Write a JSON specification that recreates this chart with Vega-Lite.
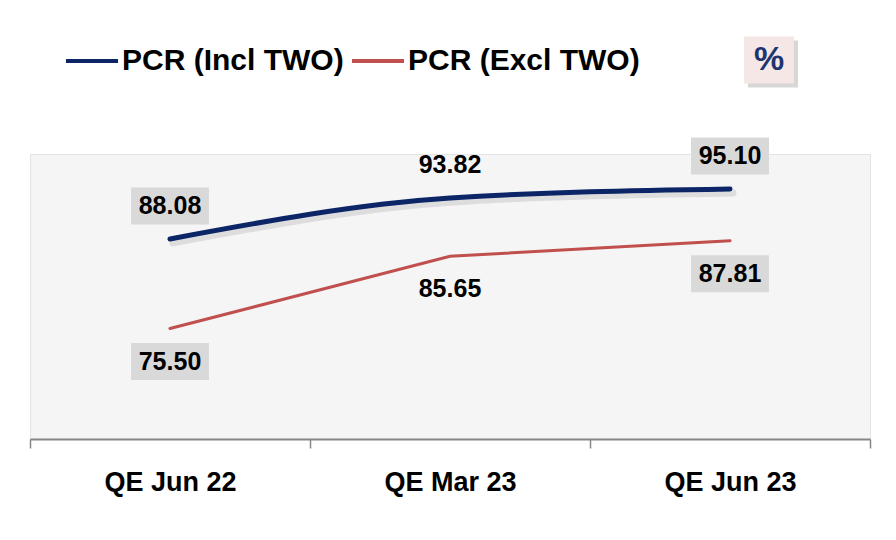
{
  "$schema": "https://vega.github.io/schema/vega-lite/v6.json",
  "width": 840,
  "height": 285,
  "autosize": {"type": "none"},
  "padding": {"left": 30, "top": 154, "right": 26, "bottom": 101},
  "background": "white",
  "config": {
    "view": {"fill": "#f5f5f5", "stroke": "#e4e4e4", "strokeWidth": 1},
    "font": "Liberation Sans"
  },
  "data": {
    "values": [
      {"period": "QE Jun 22", "series": "PCR (Incl TWO)", "value": 88.08},
      {"period": "QE Mar 23", "series": "PCR (Incl TWO)", "value": 93.82},
      {"period": "QE Jun 23", "series": "PCR (Incl TWO)", "value": 95.10},
      {"period": "QE Jun 22", "series": "PCR (Excl TWO)", "value": 75.50},
      {"period": "QE Mar 23", "series": "PCR (Excl TWO)", "value": 85.65},
      {"period": "QE Jun 23", "series": "PCR (Excl TWO)", "value": 87.81}
    ]
  },
  "encoding": {
    "x": {
      "field": "period",
      "type": "nominal",
      "sort": ["QE Jun 22", "QE Mar 23", "QE Jun 23"],
      "scale": {"type": "band", "paddingInner": 0, "paddingOuter": 0},
      "axis": {
        "title": null,
        "labelAngle": 0,
        "labelFont": "Liberation Sans",
        "labelFontSize": 27,
        "labelFontWeight": "bold",
        "labelColor": "#000000",
        "labelPadding": 21,
        "domainColor": "#868686",
        "domainWidth": 2,
        "tickColor": "#868686",
        "tickWidth": 1.5,
        "tickSize": 9,
        "tickBand": "extent",
        "grid": false
      }
    },
    "y": {
      "field": "value",
      "type": "quantitative",
      "scale": {"domain": [60, 100], "zero": false, "nice": false},
      "axis": null
    }
  },
  "layer": [
    {
      "transform": [{"filter": "datum.series === 'PCR (Incl TWO)'"}],
      "mark": {"type": "line", "color": "#8a8a8a", "opacity": 0.22, "strokeWidth": 7, "interpolate": "monotone", "xOffset": 3, "yOffset": 4, "strokeCap": "round"}
    },
    {
      "transform": [{"filter": "datum.series === 'PCR (Incl TWO)'"}],
      "mark": {"type": "line", "strokeWidth": 5, "interpolate": "monotone", "strokeCap": "round"},
      "encoding": {
        "color": {
          "field": "series",
          "type": "nominal",
          "scale": {"domain": ["PCR (Incl TWO)", "PCR (Excl TWO)"], "range": ["#0b2566", "#c0504d"]},
          "legend": {
            "title": null,
            "orient": "none",
            "direction": "horizontal",
            "legendX": 34,
            "legendY": -121,
            "padding": 0,
            "symbolType": "stroke",
            "symbolSize": 2704,
            "symbolStrokeWidth": 4,
            "labelFont": "Liberation Sans",
            "labelFontSize": 30,
            "labelFontWeight": "bold",
            "labelColor": "#000000",
            "labelOffset": 2,
            "columnPadding": 0,
            "labelLimit": 400
          }
        }
      }
    },
    {
      "transform": [{"filter": "datum.series === 'PCR (Excl TWO)'"}],
      "mark": {"type": "line", "strokeWidth": 3, "strokeCap": "round"},
      "encoding": {
        "color": {"field": "series", "type": "nominal"}
      }
    },
    {
      "transform": [{"filter": "datum.series === 'PCR (Incl TWO)' && datum.period !== 'QE Mar 23'"}],
      "mark": {"type": "point", "shape": "M-1,-0.474H1V0.474H-1Z", "size": 6084, "filled": true, "color": "#d9d9d9", "opacity": 1, "yOffset": -33}
    },
    {
      "transform": [{"filter": "datum.series === 'PCR (Excl TWO)' && datum.period !== 'QE Mar 23'"}],
      "mark": {"type": "point", "shape": "M-1,-0.474H1V0.474H-1Z", "size": 6084, "filled": true, "color": "#d9d9d9", "opacity": 1, "yOffset": 33}
    },
    {
      "transform": [{"filter": "datum.series === 'PCR (Incl TWO)'"}],
      "mark": {"type": "text", "font": "Liberation Sans", "fontSize": 25, "fontWeight": "bold", "color": "#000000", "baseline": "middle", "align": "center", "yOffset": -33},
      "encoding": {"text": {"field": "value", "type": "quantitative", "format": ".2f"}}
    },
    {
      "transform": [{"filter": "datum.series === 'PCR (Excl TWO)'"}],
      "mark": {"type": "text", "font": "Liberation Sans", "fontSize": 25, "fontWeight": "bold", "color": "#000000", "baseline": "middle", "align": "center", "yOffset": 33},
      "encoding": {"text": {"field": "value", "type": "quantitative", "format": ".2f"}}
    },
    {
      "transform": [{"filter": "datum.series === 'PCR (Incl TWO)' && datum.period === 'QE Jun 23'"}],
      "mark": {"type": "point", "shape": "M-1,-0.94H1V0.94H-1Z", "size": 2500, "filled": true, "color": "#9a9a9a", "opacity": 0.4, "xOffset": 43, "yOffset": 4},
      "encoding": {
        "y": {"datum": 113.2, "type": "quantitative"}
      }
    },
    {
      "transform": [{"filter": "datum.series === 'PCR (Incl TWO)' && datum.period === 'QE Jun 23'"}],
      "mark": {"type": "point", "shape": "M-1,-0.94H1V0.94H-1Z", "size": 2500, "filled": true, "color": "#f6e7e7", "opacity": 1, "xOffset": 39},
      "encoding": {
        "y": {"datum": 113.2, "type": "quantitative"}
      }
    },
    {
      "transform": [{"filter": "datum.series === 'PCR (Incl TWO)' && datum.period === 'QE Jun 23'"}],
      "mark": {"type": "text", "font": "Liberation Sans", "fontSize": 34, "fontWeight": "bold", "color": "#1c3470", "baseline": "middle", "align": "center", "xOffset": 39, "text": "%"},
      "encoding": {
        "y": {"datum": 113.2, "type": "quantitative"}
      }
    }
  ]
}
